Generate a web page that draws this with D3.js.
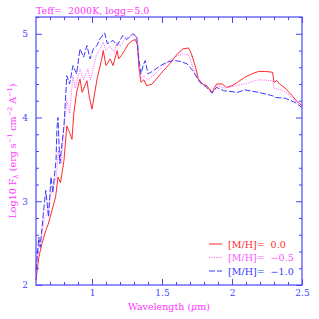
<!DOCTYPE html>
<html>
<head>
<meta charset="utf-8">
<script src="https://cdn.jsdelivr.net/npm/d3@7"></script>
<style>
  body { margin: 0; background: #fff; }
  svg { display: block; }
  text { font-family: "DejaVu Serif", "Liberation Serif", serif; white-space: pre; }
</style>
</head>
<body>
<div id="chart"></div>
<script>

// Data (wavelength in micron, log10 flux)

var titleText  = "Teff=  2000K, logg=5.0";
var seriesNames = ["[M/H]=  0.0", "[M/H]=  \u22120.5", "[M/H]=  \u22121.0"];

var waveRed = [0.60, 0.62, 0.643, 0.67, 0.69, 0.714, 0.74, 0.757, 0.775, 0.80, 0.82, 0.84, 0.857,
	0.87, 0.89, 0.914, 0.93, 0.964, 0.98, 1.00, 1.036, 1.07, 1.08, 1.10, 1.13, 1.15, 1.18,
	1.19, 1.21, 1.24, 1.26, 1.29, 1.31, 1.325, 1.335, 1.35, 1.37, 1.39, 1.43, 1.46, 1.51, 1.56, 1.61, 1.65,
	1.69, 1.71, 1.74, 1.76, 1.79, 1.82, 1.857, 1.89, 1.93, 1.96, 2.00, 2.04, 2.09, 2.14, 2.19, 2.24, 2.29,
	2.30, 2.32, 2.34, 2.38, 2.43, 2.46, 2.50];
var fluxRed = [2.06, 2.33, 2.50, 2.65, 2.74, 2.89, 3.05, 3.29, 3.22, 3.49, 3.90, 3.82, 3.74,
	4.05, 4.30, 4.46, 4.30, 4.44, 4.25, 4.10, 4.46, 4.70, 4.80, 4.62, 4.70, 4.62, 4.80,
	4.70, 4.74, 4.82, 4.88, 4.92, 4.93, 4.86, 4.60, 4.42, 4.45, 4.38, 4.40, 4.46, 4.56, 4.65, 4.76, 4.82,
	4.83, 4.76, 4.60, 4.46, 4.40, 4.38, 4.30, 4.40, 4.40, 4.36, 4.38, 4.42, 4.48, 4.52, 4.55, 4.55, 4.54,
	4.42, 4.44, 4.40, 4.35, 4.26, 4.20, 4.14];

var waveMag = [0.60, 0.62, 0.64, 0.66, 0.68, 0.70, 0.72, 0.745, 0.76, 0.78, 0.80, 0.82, 0.84, 0.864,
	0.88, 0.914, 0.94, 0.97, 0.99, 1.03, 1.06, 1.08, 1.10, 1.13, 1.16, 1.18, 1.20, 1.24, 1.28, 1.31, 1.33,
	1.345, 1.37, 1.40, 1.45, 1.50, 1.55, 1.60, 1.65, 1.69, 1.72, 1.76, 1.80, 1.857, 1.90, 1.95, 2.00,
	2.09, 2.19, 2.29, 2.30, 2.35, 2.40, 2.45, 2.50];
var fluxMag = [2.15, 2.45, 2.60, 2.80, 2.85, 3.05, 3.15, 3.30, 3.60, 3.45, 3.90, 4.20, 4.05, 4.50,
	4.35, 4.58, 4.45, 4.58, 4.45, 4.74, 4.82, 4.90, 4.80, 4.85, 4.78, 4.90, 4.85, 4.95, 4.97, 4.98, 4.85,
	4.45, 4.50, 4.45, 4.52, 4.60, 4.68, 4.73, 4.76, 4.75, 4.60, 4.45, 4.38, 4.30, 4.38, 4.35, 4.37,
	4.40, 4.45, 4.44, 4.35, 4.33, 4.28, 4.20, 4.15];

var waveBlue = [0.60, 0.62, 0.63, 0.657, 0.67, 0.69, 0.707, 0.72, 0.743, 0.75, 0.757, 0.77, 0.80, 0.82,
	0.84, 0.864, 0.89, 0.914, 0.94, 0.964, 0.986, 1.01, 1.036, 1.057, 1.09, 1.11, 1.15, 1.18, 1.22, 1.25,
	1.29, 1.32, 1.33, 1.35, 1.365, 1.38, 1.40, 1.44, 1.49, 1.535, 1.58, 1.63, 1.68, 1.72, 1.77, 1.82,
	1.857, 1.89, 1.94, 2.04, 2.09, 2.19, 2.29, 2.31, 2.38, 2.45, 2.50];
var fluxBlue = [2.18, 2.57, 2.45, 2.93, 3.13, 2.81, 3.29, 3.10, 3.49, 3.88, 4.00, 3.45, 3.90, 4.50,
	4.40, 4.62, 4.52, 4.82, 4.72, 4.86, 4.70, 4.82, 4.86, 4.94, 5.01, 4.88, 4.92, 4.86, 4.98, 4.93,
	5.00, 4.97, 4.75, 4.52, 4.62, 4.68, 4.52, 4.56, 4.62, 4.66, 4.68, 4.67, 4.64, 4.56, 4.42, 4.36,
	4.29, 4.36, 4.32, 4.30, 4.33, 4.30, 4.26, 4.24, 4.23, 4.18, 4.12];

var xMajorTicks = [1, 1.5, 2, 2.5];
var yMajorTicks = [2, 3, 4, 5];

var ChartViz = function() {

	var W = 319, H = 319;
	var PLOT_LEFT = 36, PLOT_RIGHT = 302, PLOT_TOP = 17, PLOT_BOTTOM = 285;
	var AXIS_COL  = "#4646ff";
	var LABEL_COL = "#ff33ff";

	var svg = d3.select("#chart").append("svg")
		.attr("width", W)
		.attr("height", H);

	var x = d3.scaleLinear().domain([0.6, 2.5]).range([PLOT_LEFT, PLOT_RIGHT]);
	var y = d3.scaleLinear().domain([2, 5.2]).range([PLOT_BOTTOM, PLOT_TOP]);

	/*---------------------------
	| curves
	-----------------*/

	var series = [
		{ w: waveRed,  f: fluxRed,  color: "#ff2a2a", dash: null },
		{ w: waveMag,  f: fluxMag,  color: "#ff55ff", dash: "1,1.3" },
		{ w: waveBlue, f: fluxBlue, color: "#3a3aff", dash: "6,2" }
	];

	var line = d3.line()
		.x(function(d) { return x(d[0]); })
		.y(function(d) { return y(d[1]); });

	svg.append("g").attr("class", "curves")
		.selectAll("path")
		.data(series)
		.join("path")
		  .attr("d", function(s) { return line(d3.zip(s.w, s.f)); })
		  .attr("fill", "none")
		  .attr("stroke", function(s) { return s.color; })
		  .attr("stroke-width", 1)
		  .attr("stroke-dasharray", function(s) { return s.dash; });

	/*---------------------------
	| frame and ticks (all four sides, inward)
	-----------------*/

	var xMinor = d3.range(0.7, 2.5001, 0.1).filter(function(v) {
		return Math.abs(v * 2 - Math.round(v * 2)) > 1e-6;
	});
	var yMinor = d3.range(2.2, 5.2001, 0.2).filter(function(v) {
		return Math.abs(v - Math.round(v)) > 1e-6;
	});

	var axB = d3.axisBottom(x).tickValues(xMajorTicks).tickSize(-6).tickFormat(d3.format("")).tickPadding(5);
	var axT = d3.axisTop(x).tickValues(xMajorTicks).tickSize(-6).tickFormat("");
	var axL = d3.axisLeft(y).tickValues(yMajorTicks).tickSize(-6).tickFormat(d3.format("d")).tickPadding(8);
	var axR = d3.axisRight(y).tickValues(yMajorTicks).tickSize(-6).tickFormat("");

	var addAxis = function(ax, tx, ty, minor, minorAx) {
		var g = svg.append("g").attr("transform", "translate(" + tx + "," + ty + ")").call(ax);
		g.append("g").call(minorAx.tickValues(minor).tickSize(-3).tickFormat(""));
		g.selectAll("path").attr("stroke", "none");
		g.selectAll("line").attr("stroke", AXIS_COL);
		g.selectAll("text").attr("fill", AXIS_COL).style("font-size", "9px")
			.style("font-family", "'DejaVu Serif', serif");
		return g;
	};

	addAxis(axB, 0, PLOT_BOTTOM, xMinor, d3.axisBottom(x));
	addAxis(axT, 0, PLOT_TOP, xMinor, d3.axisTop(x));
	addAxis(axL, PLOT_LEFT, 0, yMinor, d3.axisLeft(y));
	addAxis(axR, PLOT_RIGHT, 0, yMinor, d3.axisRight(y));

	svg.append("rect")
		.attr("x", PLOT_LEFT).attr("y", PLOT_TOP)
		.attr("width", PLOT_RIGHT - PLOT_LEFT)
		.attr("height", PLOT_BOTTOM - PLOT_TOP)
		.attr("fill", "none")
		.attr("stroke", AXIS_COL)
		.attr("stroke-width", 1.2);

	/*---------------------------
	| labels
	-----------------*/

	svg.append("text")
		.attr("x", PLOT_LEFT).attr("y", 14)
		.attr("fill", LABEL_COL)
		.style("font-size", "9.5px")
		.text(titleText);

	var xl = svg.append("text")
		.attr("x", (PLOT_LEFT + PLOT_RIGHT) / 2).attr("y", 310)
		.attr("text-anchor", "middle")
		.attr("fill", LABEL_COL)
		.style("font-size", "9.5px");
	xl.append("tspan").text("Wavelength (");
	xl.append("tspan").style("font-style", "italic").text("\u03bc");
	xl.append("tspan").text("m)");

	var yl = svg.append("text")
		.attr("transform", "translate(16," + ((PLOT_TOP + PLOT_BOTTOM) / 2) + ") rotate(-90)")
		.attr("text-anchor", "middle")
		.attr("fill", LABEL_COL)
		.style("font-size", "9.5px");
	yl.append("tspan").text("Log10 F");
	yl.append("tspan").attr("baseline-shift", "-25%").style("font-size", "7px").text("\u03bb");
	yl.append("tspan").text(" (erg s");
	yl.append("tspan").attr("baseline-shift", "super").style("font-size", "6.5px").text("\u22121");
	yl.append("tspan").text(" cm");
	yl.append("tspan").attr("baseline-shift", "super").style("font-size", "6.5px").text("\u22122");
	yl.append("tspan").text(" A");
	yl.append("tspan").attr("baseline-shift", "super").style("font-size", "6.5px").text("\u22121");
	yl.append("tspan").text(")");

	/*---------------------------
	| legend
	-----------------*/

	var legend = svg.append("g").attr("class", "legend");
	var rows = legend.selectAll("g")
		.data(series)
		.join("g")
		  .attr("transform", function(s, i) { return "translate(209," + (244 + i * 13.5) + ")"; });
	rows.append("line")
		.attr("x1", 0).attr("x2", 13)
		.attr("stroke", function(s) { return s.color; })
		.attr("stroke-dasharray", function(s) { return s.dash; });
	rows.append("text")
		.attr("x", 19).attr("y", 3.5)
		.attr("fill", function(s) { return s.color; })
		.style("font-size", "9.5px")
		.text(function(s, i) { return seriesNames[i]; });

	return {};
};

var viz = ChartViz();
</script>
</body>
</html>
